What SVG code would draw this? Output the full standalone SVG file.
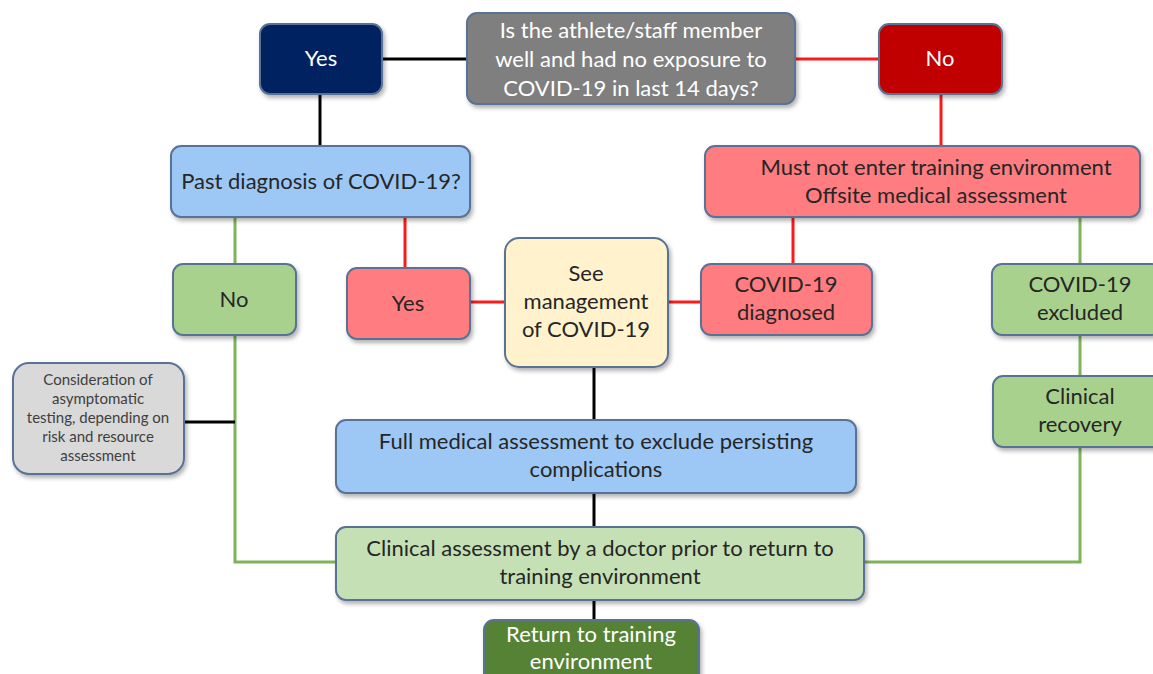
<svg xmlns="http://www.w3.org/2000/svg" width="1153" height="674" viewBox="0 0 1153 674">
<defs>
<filter id="sh" x="-10%" y="-10%" width="130%" height="140%">
<feDropShadow dx="2" dy="3" stdDeviation="2" flood-color="#000" flood-opacity="0.3"/>
</filter>
</defs>
<style>
.box{stroke:#5a7394;stroke-width:2;filter:url(#sh)}
.t{font-family:Lato,"Liberation Sans",sans-serif;font-size:22px;text-anchor:middle;fill:#262626}
.w{fill:#ffffff}
.s{font-size:15px;fill:#404040}
.k{stroke:#000;stroke-width:3;fill:none}
.r{stroke:#ff1a1a;stroke-width:3;fill:none}
.g{stroke:#7fb35a;stroke-width:3;fill:none}
</style>
<rect width="1153" height="674" fill="#fff"/>
<g id="connectors">
<path class="k" d="M382 59H467"/>
<path class="r" d="M795 59H879"/>
<path class="k" d="M320 94V146"/>
<path class="r" d="M941 94V146"/>
<path class="g" d="M235 217V264"/>
<path class="r" d="M405 217V268"/>
<path class="r" d="M470 302H505"/>
<path class="r" d="M668 302H701"/>
<path class="r" d="M793 217V264"/>
<path class="g" d="M1080 217V264"/>
<path class="g" d="M1080 335V376"/>
<path class="g" d="M1080 447V562H864"/>
<path class="g" d="M235 335V562H336"/>
<path class="k" d="M184 422H235"/>
<path class="k" d="M594 367V420"/>
<path class="k" d="M594 493V527"/>
<path class="k" d="M594 600V620"/>
</g>
<g id="q">
<rect class="box" x="467" y="13" width="328" height="91" rx="10" fill="#7f7f7f"/>
<text class="t w" x="631" y="38">Is the athlete/staff member</text>
<text class="t w" x="631" y="67">well and had no exposure to</text>
<text class="t w" x="631" y="96">COVID-19 in last 14 days?</text>
</g>
<g id="yes1">
<rect class="box" x="260" y="24" width="122" height="70" rx="10" fill="#002060"/>
<text class="t w" x="321" y="66">Yes</text>
</g>
<g id="no1">
<rect class="box" x="879" y="24" width="123" height="70" rx="10" fill="#c00000"/>
<text class="t w" x="940" y="66">No</text>
</g>
<g id="past">
<rect class="box" x="171" y="146" width="299" height="71" rx="10" fill="#9dc8f5"/>
<text class="t" x="321" y="189">Past diagnosis of COVID-19?</text>
</g>
<g id="mustnot">
<rect class="box" x="705" y="146" width="435" height="71" rx="10" fill="#ff7c80"/>
<text class="t" x="936" y="175">Must not enter training environment</text>
<text class="t" x="936" y="203">Offsite medical assessment</text>
</g>
<g id="no2">
<rect class="box" x="173" y="264" width="123" height="71" rx="10" fill="#a9d18e"/>
<text class="t" x="234" y="307">No</text>
</g>
<g id="yes2">
<rect class="box" x="347" y="268" width="123" height="71" rx="10" fill="#ff7c80"/>
<text class="t" x="408" y="311">Yes</text>
</g>
<g id="see">
<rect class="box" x="505" y="238" width="163" height="129" rx="14" fill="#fff2cc"/>
<text class="t" x="586" y="281">See</text>
<text class="t" x="586" y="309">management</text>
<text class="t" x="586" y="337">of COVID-19</text>
</g>
<g id="diag">
<rect class="box" x="701" y="264" width="171" height="71" rx="10" fill="#ff7c80"/>
<text class="t" x="786" y="292">COVID-19</text>
<text class="t" x="786" y="320">diagnosed</text>
</g>
<g id="excl">
<rect class="box" x="992" y="264" width="170" height="71" rx="10" fill="#a9d18e"/>
<text class="t" x="1080" y="292">COVID-19</text>
<text class="t" x="1080" y="320">excluded</text>
</g>
<g id="recov">
<rect class="box" x="993" y="376" width="170" height="71" rx="10" fill="#a9d18e"/>
<text class="t" x="1080" y="404">Clinical</text>
<text class="t" x="1080" y="432">recovery</text>
</g>
<g id="consid">
<rect class="box" x="13" y="363" width="171" height="111" rx="16" fill="#d9d9d9"/>
<text class="t s" x="98" y="385">Consideration of</text>
<text class="t s" x="98" y="404">asymptomatic</text>
<text class="t s" x="98" y="423">testing, depending on</text>
<text class="t s" x="98" y="442">risk and resource</text>
<text class="t s" x="98" y="461">assessment</text>
</g>
<g id="full">
<rect class="box" x="336" y="420" width="520" height="73" rx="10" fill="#9dc8f5"/>
<text class="t" x="596" y="449">Full medical assessment to exclude persisting</text>
<text class="t" x="596" y="477">complications</text>
</g>
<g id="clin">
<rect class="box" x="336" y="527" width="528" height="73" rx="10" fill="#c5e0b4"/>
<text class="t" x="600" y="556">Clinical assessment by a doctor prior to return to</text>
<text class="t" x="600" y="584">training environment</text>
</g>
<g id="ret">
<rect class="box" x="484" y="620" width="215" height="70" rx="10" fill="#548235"/>
<text class="t w" x="591" y="642">Return to training</text>
<text class="t w" x="591" y="669">environment</text>
</g>
</svg>
